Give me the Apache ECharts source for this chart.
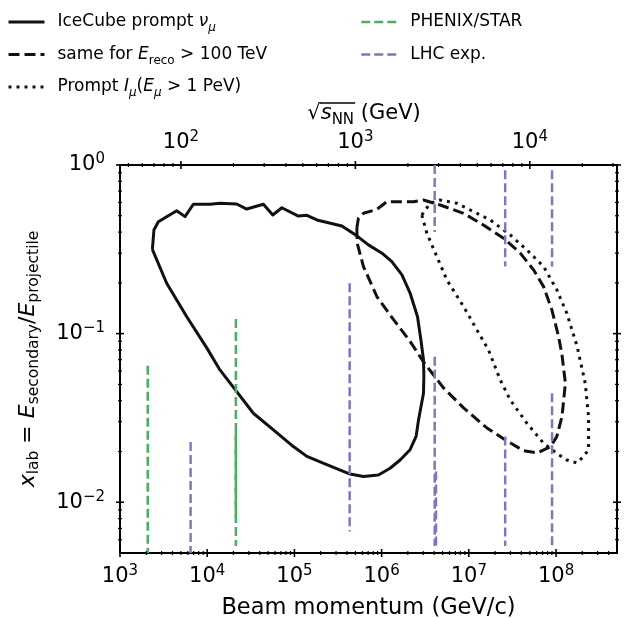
<!DOCTYPE html>
<html><head><meta charset="utf-8">
<script src="https://cdn.jsdelivr.net/npm/echarts@6/dist/echarts.min.js"></script>
<style>html,body{margin:0;padding:0;background:#fff}#c{width:628px;height:618px}</style>
</head><body><div id="c"></div>
<script>
// ---------- axis ranges ----------
const xMin = 1e3, xMax = 5e8;          // beam momentum (GeV/c)
const yMin = 5e-3, yMax = 1;           // x_lab
const sMin = Math.sqrt(2 * xMin), sMax = Math.sqrt(2 * xMax); // sqrt(s_NN) (GeV) for top axis

// ---------- tick labels ----------
const xTickLabels = [1e3, 1e4, 1e5, 1e6, 1e7, 1e8];
const yTickLabels = [1e-2, 1e-1, 1];
const sTickLabels = [1e2, 1e3, 1e4];

// ---------- contour: IceCube prompt nu_mu (solid) ----------
const icecubePrompt = [
  [2.35e3,0.316],[2.45e3,0.412],[2.75e3,0.461],[3.58e3,0.500],[4.47e3,0.536],[5.57e3,0.494],
  [6.93e3,0.585],[1.08e4,0.585],[1.40e4,0.593],[2.18e4,0.587],[2.84e4,0.548],[4.41e4,0.585],
  [5.65e4,0.505],[7.17e4,0.558],[1.11e5,0.498],[1.39e5,0.503],[1.81e5,0.472],[3.50e5,0.435],
  [5.20e5,0.380],[7.06e5,0.336],[1.01e6,0.300],[1.31e6,0.267],[1.71e6,0.223],[2.12e6,0.174],
  [2.58e6,0.126],[2.82e6,0.092],[3.02e6,0.070],[3.05e6,0.056],[3.02e6,0.0443],[2.65e6,0.0308],[2.49e6,0.0247],
  [2.12e6,0.0205],[1.63e6,0.0178],[1.25e6,0.0159],[9.19e5,0.0145],[6.19e5,0.0142],[4.35e5,0.0147],
  [2.35e5,0.0167],[1.39e5,0.0187],[9.73e4,0.0214],[5.74e4,0.0269],[3.38e4,0.0337],[2.18e4,0.0453],
  [1.40e4,0.0609],[9.88e3,0.0823],[5.83e3,0.126],[3.43e3,0.199],[2.35e3,0.316]
];
// ---------- contour: same for E_reco > 100 TeV (dashed) ----------
const icecubeHighE = [
  [5.20e5,0.423],[5.24e5,0.344],[6.19e5,0.250],[8.82e5,0.166],[1.37e6,0.121],[2.12e6,0.090],
  [3.02e6,0.068],[5.12e6,0.0477],[8.69e6,0.0363],[1.61e7,0.0276],[2.73e7,0.0231],[4.24e7,0.0202],
  [6.09e7,0.0196],[8.58e7,0.0213],[1.02e8,0.0245],[1.17e8,0.0322],[1.28e8,0.0508],[1.17e8,0.0748],
  [1.07e8,0.096],[8.97e7,0.138],[7.19e7,0.190],[5.52e7,0.239],[3.89e7,0.300],[2.50e7,0.368],
  [1.47e7,0.441],[8.69e6,0.517],[4.69e6,0.579],[3.02e6,0.620],[2.32e6,0.606],[1.15e6,0.606],
  [8.82e5,0.546],[6.19e5,0.517],[5.42e5,0.483],[5.20e5,0.423]
];
// ---------- contour: prompt I_mu (E_mu > 1 PeV) (dotted) ----------
const promptMuon = [
  [2.89e6,0.505],[3.30e6,0.394],[4.30e6,0.286],[5.60e6,0.208],[8.69e6,0.145],[1.24e7,0.105],
  [1.68e7,0.080],[2.29e7,0.0532],[2.98e7,0.0405],[4.64e7,0.0294],[7.19e7,0.0224],[1.02e8,0.0195],
  [1.33e8,0.0178],[1.74e8,0.0171],[2.07e8,0.0187],[2.36e8,0.0205],[2.36e8,0.0322],[2.16e8,0.0508],
  [1.75e8,0.0834],[1.33e8,0.132],[1.02e8,0.182],[7.19e7,0.250],[4.64e7,0.313],[2.98e7,0.385],
  [1.76e7,0.472],[1.13e7,0.529],[7.30e6,0.593],[4.69e6,0.620],[3.60e6,0.593],[2.89e6,0.505]
];
// ---------- experiment coverage: [beam momentum, x_lab top, x_lab bottom] ----------
const phenixStar = [[2.08e3,0.0645,0.005],[2.13e4,0.122,0.0055],[2.13e4,0.0262,0.0082]];
const lhcExp = [
  [6.45e3,0.0228,0.005],[4.30e5,0.199,0.0067],[4.06e6,1.0,0.40],[4.06e6,0.073,0.0055],
  [4.20e6,0.0152,0.0055],[2.61e7,0.93,0.25],[2.61e7,0.0245,0.0055],[9.0e7,0.93,0.25],[9.0e7,0.0443,0.0055]
];

const FONT = 'DejaVu Sans';
const INK = '#111111';
const GREEN = '#4cae5e';
const PURPLE = '#8176bd';

function isPow10(v){ const l = Math.log10(v); return Math.abs(l - Math.round(l)) < 1e-6; }
function powLabel(v){ const e = Math.round(Math.log10(v)); return '10{sup|' + String(e).replace('-', '\u2212') + '}'; }
function majors(lo, hi){ const o=[]; for(let e=Math.floor(Math.log10(lo)); e<=Math.ceil(Math.log10(hi)); e++){ const v=Math.pow(10,e); if(v>=lo*0.9999 && v<=hi*1.0001) o.push(v);} return o; }
function minors(lo, hi){ const o=[]; for(let e=Math.floor(Math.log10(lo)); e<=Math.ceil(Math.log10(hi)); e++) for(let m=2;m<=9;m++){ const v=m*Math.pow(10,e); if(v>lo*1.0001 && v<hi*0.9999) o.push(v);} return o; }

const labelRich = { sup: { fontSize: 15, lineHeight: 15, verticalAlign: 'top', fontFamily: FONT, color: '#000' } };
const labelBase = { color: '#000', fontSize: 21, fontFamily: FONT, lineHeight: 26, rich: labelRich };

// tick series (inout ticks)
function xTickSeries(vals, len, w, axisIdx, atY){
  return { type:'custom', xAxisIndex: axisIdx, yAxisIndex: 0, silent: true, clip: false, z: 20, animation: false,
    data: vals.map(v => [v, atY]),
    renderItem: (p, api) => { const c = api.coord([api.value(0), api.value(1)]);
      return { type:'line', shape:{x1:c[0], y1:c[1]-len/2, x2:c[0], y2:c[1]+len/2}, style:{stroke:'#000', lineWidth:w} }; } };
}
function yTickSeries(vals, len, w){
  return { type:'custom', xAxisIndex: 0, yAxisIndex: 0, silent: true, clip: false, z: 20, animation: false,
    data: vals.map(v => [xMin, v]),
    renderItem: (p, api) => { const a = api.coord([xMin, api.value(1)]); const b = api.coord([xMax, api.value(1)]);
      return { type:'group', children:[
        { type:'line', shape:{x1:a[0]-len/2, y1:a[1], x2:a[0]+len/2, y2:a[1]}, style:{stroke:'#000', lineWidth:w} },
        { type:'line', shape:{x1:b[0]-len/2, y1:b[1], x2:b[0]+len/2, y2:b[1]}, style:{stroke:'#000', lineWidth:w} } ] }; } };
}

const N1 = 'IceCube prompt', N2 = 'same for Ereco', N3 = 'Prompt Imu', N4 = 'PHENIX/STAR', N5 = 'LHC exp.';
const legendText = {
  [N1]: 'IceCube prompt {nu|\u03bd}{subi|\u03bc}',
  [N2]: 'same for {i|E}{sub|reco}{sp| >} 100 TeV',
  [N3]: 'Prompt {i|I}{subi|\u03bc}({i|E}{subi|\u03bc}{sp| >} 1 PeV)',
  [N4]: 'PHENIX/STAR',
  [N5]: 'LHC exp.'
};
const LF = 17;
const legRich = {
  i: { fontStyle:'italic', fontSize:LF, lineHeight:24, fontFamily:FONT, color:'#000' },
  nu: { fontStyle:'italic', fontSize:LF, lineHeight:24, fontFamily:FONT, color:'#000' },
  sp: { fontSize:LF, lineHeight:24, fontFamily:FONT, color:'#000' },
  sub: { fontSize:12, lineHeight:12, verticalAlign:'bottom', fontFamily:FONT, color:'#000' },
  subi: { fontStyle:'italic', fontSize:12, lineHeight:12, verticalAlign:'bottom', fontFamily:FONT, color:'#000' }
};
function legend(names, left, lw){
  return { data: names, left: left, top: 5, orient:'vertical', itemWidth: 36, itemHeight: 14, itemGap: 8.5,
    itemStyle: { opacity: 0 }, lineStyle: { width: lw },
    formatter: n => legendText[n],
    textStyle: { fontSize: LF, fontFamily: FONT, color:'#000', lineHeight: 24, padding:[0,0,0,8], rich: legRich } };
}

function vlineSeries(list, name, color){
  return list.map(s => ({ type:'line', name: name, symbol:'none', animation:false, silent:true,
    data: [[s[0], s[1]], [s[0], s[2]]],
    lineStyle: { color: color, width: 2.5, type: [9, 4], cap:'butt' } }));
}

// ---- top title sqrt(s_NN) (GeV): measure pieces to place the radical bar ----
const mctx = document.createElement('canvas').getContext('2d');
function tw(font, t){ mctx.font = font; return mctx.measureText(t).width; }
const wRad = tw('21px "DejaVu Sans"', '\u221a');
const wS = tw('italic 21px "DejaVu Sans"', 's');
const wNN = tw('15px "DejaVu Sans"', 'NN');
const wRest = tw('21px "DejaVu Sans"', ' (GeV)');
const titleW = wRad + wS + wNN + wRest;
const titleX0 = 364 - titleW / 2;
const titleY = 114;

const option = {
  animation: false,
  backgroundColor: '#fff',
  grid: { left: 120, right: 11, top: 165, bottom: 65, containLabel: false, outerBoundsMode: 'none' },
  legend: [ legend([N1, N2, N3], 2, 3), legend([N4, N5], 355, 2.5) ],
  xAxis: [
    { type:'log', logBase:10, min:xMin, max:xMax, position:'bottom',
      axisLine:{ show:true, onZero:false, lineStyle:{ color:'#000', width:2 } },
      axisTick:{ show:false }, splitLine:{ show:false }, minorTick:{show:false},
      axisLabel: Object.assign({ margin: 11, formatter: v => isPow10(v) ? powLabel(v) : '' }, labelBase),
      name:'Beam momentum (GeV/c)', nameLocation:'middle', nameGap: 44,
      nameTextStyle:{ fontSize:22.5, fontFamily:FONT, color:'#000' } },
    { type:'log', logBase:10, min:sMin, max:sMax, position:'top',
      axisLine:{ show:true, onZero:false, lineStyle:{ color:'#000', width:2 } },
      axisTick:{ show:false }, splitLine:{ show:false },
      axisLabel: Object.assign({ margin: 9, formatter: v => isPow10(v) ? powLabel(v) : '' }, labelBase) }
  ],
  yAxis: [
    { type:'log', logBase:10, min:yMin, max:yMax, position:'left',
      axisLine:{ show:true, onZero:false, lineStyle:{ color:'#000', width:2 } },
      axisTick:{ show:false }, splitLine:{ show:false },
      axisLabel: Object.assign({ margin: 15, formatter: v => isPow10(v) ? powLabel(v) : '' }, labelBase),
      name:'{i|x}{sub|lab} = {i|E}{sub|secondary}/{i|E}{sub|projectile}', nameLocation:'middle', nameRotate: 90, nameGap: 78,
      nameTextStyle:{ fontSize:22, fontFamily:FONT, color:'#000', lineHeight: 28, rich:{
        i:{ fontStyle:'italic', fontSize:22, lineHeight:28, fontFamily:FONT, color:'#000' },
        sub:{ fontSize:15.5, lineHeight:15, verticalAlign:'bottom', fontFamily:FONT, color:'#000' } } } },
    { type:'log', logBase:10, min:yMin, max:yMax, position:'right',
      axisLine:{ show:true, onZero:false, lineStyle:{ color:'#000', width:2 } },
      axisTick:{ show:false }, splitLine:{ show:false }, axisLabel:{ show:false } }
  ],
  graphic: [
    { type:'text', x: titleX0, y: titleY, z: 50, style: { text: '\u221a{i|s}{sub|NN} (GeV)', fontSize: 21, fontFamily: FONT, fill:'#000',
      align:'left', verticalAlign:'middle', lineHeight: 28,
      rich: { i:{ fontStyle:'italic', fontSize:21, lineHeight:28, fontFamily:FONT, fill:'#000' },
              sub:{ fontSize:15, lineHeight:15, verticalAlign:'bottom', fontFamily:FONT, fill:'#000' } } } },
    { type:'line', z: 50, shape: { x1: titleX0 + wRad - 1, y1: titleY - 11, x2: titleX0 + wRad + wS + wNN + 1, y2: titleY - 11 },
      style: { stroke:'#000', lineWidth: 1.4 } }
  ],
  series: [
    { type:'line', name:N1, data: icecubePrompt, symbol:'none', silent:true, lineStyle:{ color:INK, width:3, type:'solid', join:'round' } },
    { type:'line', name:N2, data: icecubeHighE, symbol:'none', silent:true, lineStyle:{ color:INK, width:3, type:[11,5], cap:'butt' } },
    { type:'line', name:N3, data: promptMuon, symbol:'none', silent:true, lineStyle:{ color:INK, width:3, type:[3,5], cap:'butt' } },
    ...vlineSeries(phenixStar, N4, GREEN),
    ...vlineSeries(lhcExp, N5, PURPLE),
    xTickSeries(majors(xMin, xMax), 8, 1.6, 0, yMin),
    xTickSeries(minors(xMin, xMax), 4, 1.2, 0, yMin),
    xTickSeries(majors(sMin, sMax), 8, 1.6, 1, yMax),
    xTickSeries(minors(sMin, sMax), 4, 1.2, 1, yMax),
    yTickSeries(majors(yMin, yMax), 8, 1.6),
    yTickSeries(minors(yMin, yMax), 4, 1.2)
  ]
};
const chart = echarts.init(document.getElementById('c'), null, { renderer:'canvas' });
chart.setOption(option);
</script></body></html>
